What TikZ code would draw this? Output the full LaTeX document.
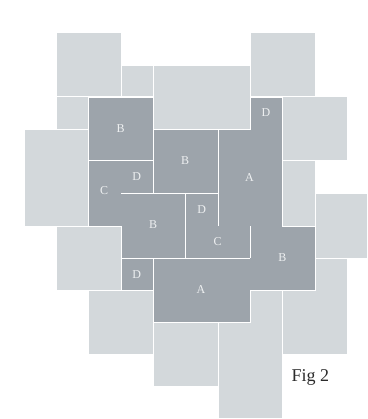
\documentclass[tikz,border=0pt]{standalone}
\usepackage{fontspec}
\setmainfont{Liberation Serif}
\definecolor{lighttile}{HTML}{D3D8DB}
\definecolor{darktile}{HTML}{9DA4AB}
\definecolor{labelc}{HTML}{EEF0F1}
\definecolor{figc}{HTML}{2B2B2B}
\begin{document}
\begin{tikzpicture}[x=1pt,y=-1pt,
  light/.style={fill=lighttile,draw=white,line width=1pt},
  dark/.style={fill=darktile},
  sep/.style={draw=white,line width=1pt},
  outlinestyle/.style={draw=white,line width=0.8pt,line join=miter},
  lbl/.style={text=labelc,font=\fontsize{12}{14}\selectfont,inner sep=0pt},
  figcaption/.style={text=figc,font=\fontsize{18}{20}\selectfont,inner sep=0pt,anchor=base west}]
\useasboundingbox (0,0) rectangle (367,419);
\fill[white] (0,0) rectangle (367,419);
% light tiles
\path[light] (56,33) rectangle (121,97);
\path[light] (121,65.5) rectangle (153,97);
\path[light] (153,65.5) rectangle (250,129.5);
\path[light] (56,97) rectangle (88.5,129.5);
\path[light] (24,129.5) rectangle (88.5,226);
\path[light] (250,33) rectangle (315,97);
\path[light] (282,97) rectangle (347,161);
\path[light] (282,161) rectangle (315,226);
\path[light] (315,193.5) rectangle (367.5,258);
\path[light] (282,258) rectangle (347,354);
\path[light] (218,290) rectangle (282,418.5);
\path[light] (153,322) rectangle (218,386);
\path[light] (56,226) rectangle (121,290);
\path[light] (88.5,290) rectangle (153,354);
% dark tiles
\path[dark] (88.5,97) rectangle (153,161);
\path[dark] (153,129.5) rectangle (218,193.5);
\path[dark] (88.5,161) rectangle (121,226);
\path[dark] (121,161) rectangle (153,193.5);
\path[dark] (121,193.5) rectangle (185,258);
\path[dark] (185,193.5) rectangle (218,226);
\path[dark] (185,226) rectangle (250,258);
\path[dark] (218,129.5) rectangle (282,226);
\path[dark] (250,97) rectangle (282,129.5);
\path[dark] (250,226) rectangle (315,290);
\path[dark] (153,258) rectangle (250,322);
\path[dark] (121,258) rectangle (153,290);
% outline of the dark area
\path[outlinestyle] (88.5,97) -- (153,97) -- (153,129.5) -- (250,129.5) -- (250,97) -- (282,97)
  -- (282,226) -- (315,226) -- (315,290) -- (250,290) -- (250,322) -- (153,322)
  -- (153,290) -- (121,290) -- (121,226) -- (88.5,226) -- cycle;
% inner joints
\path[sep] (88.5,161) -- (153,161);
\path[sep] (153,129.5) -- (153,193.5);
\path[sep] (121,193.5) -- (218,193.5);
\path[sep] (218,129.5) -- (218,226);
\path[sep] (185,193.5) -- (185,258);
\path[sep] (250,226) -- (250,258);
\path[sep] (121,258) -- (250,258);
\path[sep] (153,258) -- (153,290);
% labels
\node[lbl] (b1) at (120.7,129) {B};
\node[lbl] (b2) at (185,161) {B};
\node[lbl] (c1) at (104,191) {C};
\node[lbl] (d1) at (136.7,177) {D};
\node[lbl] (b3) at (153,224.5) {B};
\node[lbl] (d2) at (201.7,209.5) {D};
\node[lbl] (c2) at (217.7,241.7) {C};
\node[lbl] (a1) at (249.4,178) {A};
\node[lbl] (d3) at (266,113) {D};
\node[lbl] (b4) at (282.3,257.7) {B};
\node[lbl] (a2) at (201,289.3) {A};
\node[lbl] (d4) at (136.7,274.3) {D};
\node[figcaption] (fig) at (291.5,381.7) {Fig 2};
\end{tikzpicture}
\end{document}
